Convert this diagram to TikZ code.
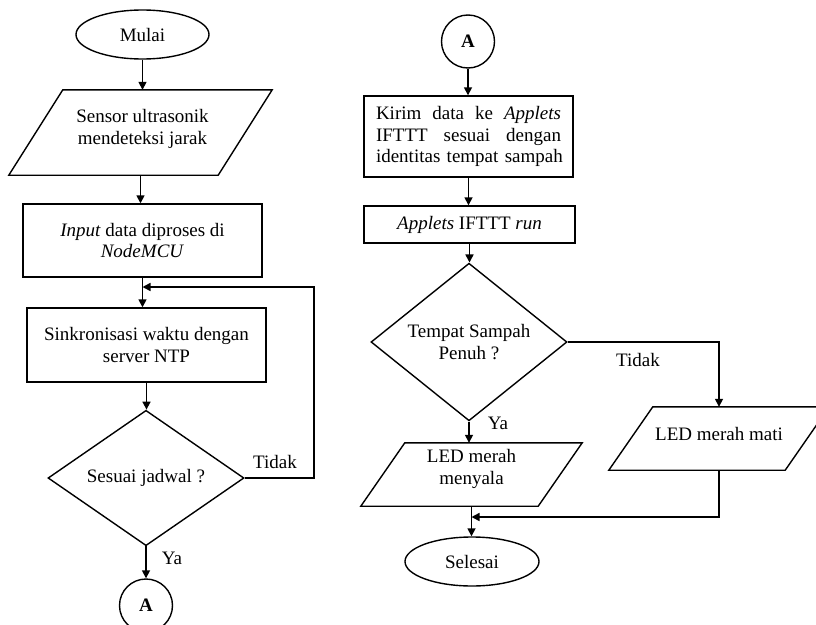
\documentclass[tikz,border=0pt]{standalone}
\usepackage{fontspec}
\setmainfont{Liberation Serif}
\usetikzlibrary{shapes.geometric,arrows.meta,calc}
\tikzset{
  base/.style={font=\fontsize{19}{21.5}\selectfont, inner sep=0pt, text=black},
  procbox/.style={base, draw, line width=1.4pt, rectangle, align=center},
  termnode/.style={base, draw, ellipse, line width=1.4pt},
  decnode/.style={base, draw, diamond, line width=1.4pt, align=center, minimum width=196pt, minimum height=134pt},
  connnode/.style={base, draw, circle, line width=1.4pt, minimum size=53pt},
  paraframe/.style={rectangle, inner sep=0pt},
  paratext/.style={base, align=center},
  arr/.style={line width=1.6pt, -{Triangle[length=8pt,width=8pt]}},
  lbl/.style={base}
}
\newcommand{\paragram}[2]{\draw[line width=1.4pt] ($(#1.north west)+(#2,0)$) -- (#1.north east) -- ($(#1.south east)-(#2,0)$) -- (#1.south west) -- cycle;}
\begin{document}
\begin{tikzpicture}[x=1pt,y=-1pt]
\useasboundingbox (0,0) rectangle (816,624);
\clip (0,0) rectangle (816,624);
\fill[white] (0,0) rectangle (816,624);

% ---------- left column ----------
\node[termnode, minimum width=133pt, minimum height=49pt] (mulai) at (142.5,34.5) {Mulai};

\node[paraframe, minimum width=263pt, minimum height=85pt] (sensor) at (140.5,132.5) {};
\paragram{sensor}{54}
\node[paratext] (sensort) at ($(sensor.center)+(2,-3.5)$) {Sensor ultrasonik\\mendeteksi jarak};

\node[procbox, minimum width=239pt, minimum height=73pt] (input) at (142.5,240.5) {\textit{Input} data diproses di\\\textit{NodeMCU}};

\node[procbox, minimum width=239pt, minimum height=74pt] (sinkr) at (146.5,345) {Sinkronisasi waktu dengan\\server NTP};

\node[decnode] (dec1) at (146,478) {Sesuai jadwal ?};

\node[connnode] (a1) at (146,605.5) {\textbf{A}};

\coordinate (loopR) at (314,287);

\draw[arr] (mulai.south) -- (mulai.south |- sensor.north);
\draw[arr] (sensor.south) -- (sensor.south |- input.north);
\draw[arr] (input.south) -- (input.south |- sinkr.north);
\draw[arr] (sinkr.south) -- (sinkr.south |- dec1.north);
\draw[arr] (dec1.east) -| (loopR) -- (input.south |- loopR);
\draw[arr] (dec1.south) -- (a1.north);

\node[lbl] (tidak1) at (275,462) {Tidak};
\node[lbl] (ya1) at (172,558) {Ya};

% ---------- right column ----------
\node[connnode] (a2) at (468,41.5) {\textbf{A}};

\node[procbox, minimum width=209pt, minimum height=81pt, text width=185pt, align=left] (kirim) at (468.5,136.5)
  {Kirim\hfill data\hfill ke\hfill \textit{Applets}\\IFTTT\hfill sesuai\hfill dengan\\\mbox{identitas tempat sampah}};

\node[procbox, minimum width=211pt, minimum height=37pt] (applets) at (469.5,224.5) {\textit{Applets} IFTTT \textit{run}};

\node[decnode] (dec2) at (469,342) {Tempat Sampah\\Penuh ?};

\node[paraframe, minimum width=221pt, minimum height=63pt] (menyala) at (471.5,474.5) {};
\paragram{menyala}{44}
\node[paratext] (menyalat) at ($(menyala.center)+(0,-5.5)$) {LED merah\\menyala};

\node[paraframe, minimum width=220pt, minimum height=63pt] (mati) at (719,438.5) {};
\paragram{mati}{44}
\node[paratext] (matit) at ($(mati.center)+(0,-4.5)$) {LED merah mati};

\node[termnode, minimum width=134pt, minimum height=49pt] (selesai) at (472,561.5) {Selesai};

\coordinate (joinR) at (719,517);

\draw[arr] (a2.south) -- (a2.south |- kirim.north);
\draw[arr] (kirim.south) -- (kirim.south |- applets.north);
\draw[arr] (applets.south) -- (applets.south |- dec2.north);
\draw[arr] (dec2.south) -- (dec2.south |- menyala.north);
\draw[arr] (dec2.east) -| (mati.north);
\draw[arr] (menyala.south) -- (menyala.south |- selesai.north);
\draw[arr] (mati.south) -- (joinR) -- (menyala.south |- joinR);

\node[lbl] (ya2) at (498,423) {Ya};
\node[lbl] (tidak2) at (638,360) {Tidak};
\end{tikzpicture}
\end{document}
